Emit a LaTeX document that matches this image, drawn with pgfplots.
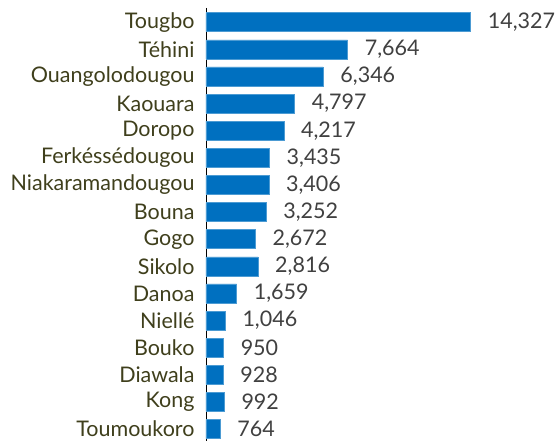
\documentclass[border=0pt]{standalone}
\usepackage{pgfplots}
\pgfplotsset{compat=1.18}
\usepackage{fontspec}
\setmainfont{Lato}
\definecolor{barblue}{HTML}{0070C0}
\definecolor{lbl}{HTML}{3F3F1C}
\definecolor{val}{HTML}{404040}
\begin{document}
\begin{tikzpicture}
\useasboundingbox (-206pt,0pt) rectangle (353pt,441pt);
\begin{axis}[
  at={(0pt,0pt)}, anchor=south west,
  scale only axis, width=353pt, height=433pt,
  xbar, bar width=19pt,
  xmin=0, xmax=19107,
  ymin=-0.523, ymax=15.44,
  y dir=reverse,
  axis x line=none,
  axis y line*=left,
  y axis line style={black, line width=0.8pt, -},
  ytick={0,...,15},
  yticklabels={Tougbo,Téhini,Ouangolodougou,Kaouara,Doropo,Ferkéssédougou,Niakaramandougou,Bouna,Gogo,Sikolo,Danoa,Niellé,Bouko,Diawala,Kong,Toumoukoro},
  major tick length=0pt,
  yticklabel style={font=\fontsize{21.5}{25}\selectfont, text=lbl, xshift=-8pt},
  nodes near coords,
  nodes near coords style={font=\fontsize{21.5}{25}\selectfont, text=val, inner sep=0pt, xshift=17pt, anchor=west,
    /pgf/number format/.cd, 1000 sep={,}, assume math mode=true},
  clip=false,
]
\addplot[fill=barblue, draw=barblue!70!white, line width=0.4pt] coordinates {
(14327,0) (7664,1) (6346,2) (4797,3) (4217,4) (3435,5) (3406,6) (3252,7)
(2672,8) (2816,9) (1659,10) (1046,11) (950,12) (928,13) (992,14) (764,15)
};
\end{axis}
\end{tikzpicture}
\end{document}
